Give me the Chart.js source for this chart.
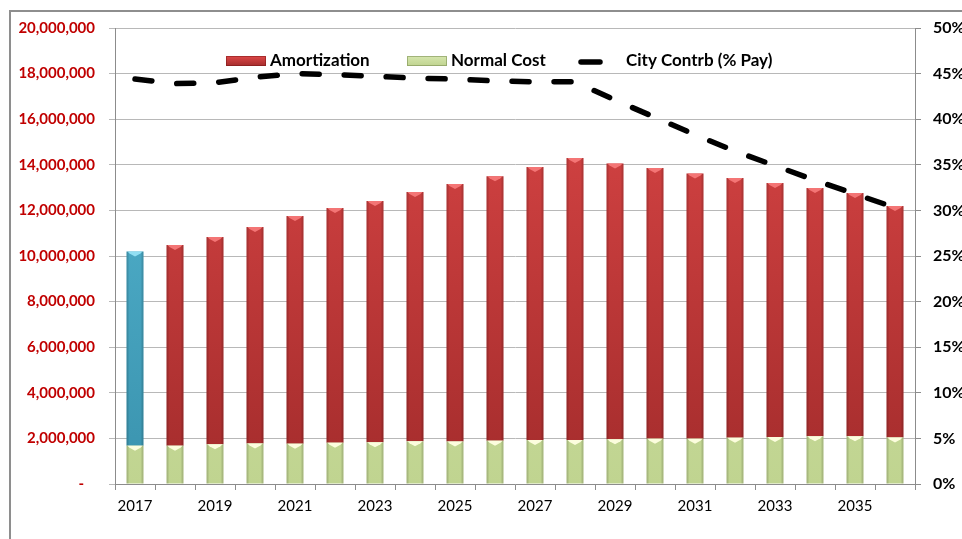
<!DOCTYPE html>
<html><head><meta charset="utf-8">
<script src="https://cdn.jsdelivr.net/npm/chart.js@4.4.1/dist/chart.umd.min.js"></script>
<style>
html,body{margin:0;padding:0;background:#fff;overflow:hidden;}
#wrap{position:relative;width:962px;height:539px;overflow:hidden;}
#frame{position:absolute;left:9px;top:10px;width:2000px;height:2000px;border:2px solid #8e8e8e;box-sizing:border-box;}
#c{position:absolute;left:0;top:0;}
</style></head><body>
<div id="wrap"><div id="frame"></div><canvas id="c" width="962" height="539"></canvas></div>
<script>
const years = [2017,2018,2019,2020,2021,2022,2023,2024,2025,2026,2027,2028,2029,2030,2031,2032,2033,2034,2035,2036];
const normalCost = [1680000,1680000,1740000,1780000,1770000,1810000,1830000,1870000,1860000,1900000,1930000,1930000,1960000,1990000,1990000,2030000,2060000,2090000,2090000,2040000];
const amortization = [8520000,8800000,9090000,9490000,9980000,10290000,10580000,10940000,11300000,11600000,11970000,12370000,12100000,11870000,11630000,11390000,11140000,10890000,10670000,10150000];
const cityContrbPct = [44.4,43.9,44.0,44.6,45.0,44.9,44.7,44.5,44.4,44.2,44.1,44.1,42.1,40.2,38.3,36.5,34.9,33.3,31.8,30.3];
const seriesNames = ['Normal Cost','Amortization','City Contrb (% Pay)'];

function vGrad(chart, c1, c2) {
  const a = chart.chartArea;
  if (!a) return c2;
  const g = chart.ctx.createLinearGradient(0, a.top, 0, a.bottom);
  g.addColorStop(0, c1); g.addColorStop(1, c2);
  return g;
}
const RED = ['#de4848','#a42c2c'];
const BLUE = ['#58bad6','#3a93ae'];
const GREEN = ['#d6e6ae','#c0d490'];

const bevelPlugin = {
  id: 'bevel',
  afterDatasetDraw(chart, args) {
    const meta = args.meta;
    if (meta.type !== 'bar') return;
    const ctx = chart.ctx;
    ctx.save();
    meta.data.forEach((el, i) => {
      const p = el.getProps(['x','y','base','width'], true);
      const top = Math.min(p.y, p.base), bot = Math.max(p.y, p.base);
      const l = p.x - p.width/2, r = p.x + p.width/2;
      // edge shading
      ctx.fillStyle = 'rgba(0,0,0,0.13)';
      ctx.fillRect(l, top, 2, bot-top);
      ctx.fillRect(r-2, top, 2, bot-top);
      // chevron highlight
      let hl;
      if (meta.index === 0) hl = 'rgba(255,255,225,0.95)';
      else hl = (i === 0) ? 'rgba(150,225,245,0.95)' : 'rgba(245,120,120,0.95)';
      ctx.fillStyle = hl;
      ctx.beginPath();
      ctx.moveTo(l+1, top); ctx.lineTo(r-1, top); ctx.lineTo(r-3, top+2);
      ctx.lineTo(p.x, top+5); ctx.lineTo(l+3, top+2); ctx.closePath(); ctx.fill();
    });
    ctx.restore();
  }
};

const legendPlugin = {
  id: 'excelLegend',
  afterDraw(chart) {
    const ctx = chart.ctx, a = chart.chartArea;
    const ds = chart.data.datasets;
    ctx.save();
    ctx.font = 'bold 17px Lato';
    ctx.textBaseline = 'middle';
    ctx.textAlign = 'left';
    const y = a.top + 33;
    // Amortization
    let x = a.left + 111;
    ctx.fillStyle = vGradBox(ctx, y, RED);
    ctx.fillRect(x, y-5, 40, 10);
    ctx.strokeStyle = 'rgba(120,20,20,0.5)'; ctx.lineWidth = 1; ctx.strokeRect(x+0.5, y-4.5, 39, 9);
    ctx.fillStyle = '#000';
    ctx.fillText(ds[1].label, x + 44, y);
    // Normal Cost
    x = a.left + 292;
    ctx.fillStyle = vGradBox(ctx, y, GREEN);
    ctx.fillRect(x, y-5, 40, 10);
    ctx.strokeStyle = 'rgba(110,130,70,0.5)'; ctx.strokeRect(x+0.5, y-4.5, 39, 9);
    ctx.fillStyle = '#000';
    ctx.fillText(ds[0].label, x + 44, y);
    // line
    x = a.left + 466;
    ctx.strokeStyle = '#000'; ctx.lineWidth = 5.5; ctx.lineCap = 'round';
    ctx.beginPath(); ctx.moveTo(x, y+1); ctx.lineTo(x+19, y+1); ctx.stroke();
    ctx.fillStyle = '#000';
    ctx.fillText(ds[2].label, a.left + 511, y);
    ctx.restore();
  }
};
function vGradBox(ctx, y, cols) {
  const g = ctx.createLinearGradient(0, y-5, 0, y+5);
  g.addColorStop(0, cols[0]); g.addColorStop(1, cols[1]);
  return g;
}

new Chart(document.getElementById('c'), {
  type: 'bar',
  data: {
    labels: years.map(String),
    datasets: [
      { label: seriesNames[0], data: normalCost, yAxisID: 'y', stack: 's', order: 1,
        backgroundColor: c => vGrad(c.chart, GREEN[0], GREEN[1]),
        borderWidth: 0, barPercentage: 0.425, categoryPercentage: 1 },
      { label: seriesNames[1], data: amortization, yAxisID: 'y', stack: 's', order: 1,
        backgroundColor: c => (c.dataIndex === 0 ? vGrad(c.chart, BLUE[0], BLUE[1]) : vGrad(c.chart, RED[0], RED[1])),
        borderWidth: 0, barPercentage: 0.425, categoryPercentage: 1 },
      { type: 'line', label: seriesNames[2], data: cityContrbPct, yAxisID: 'y1', order: 0,
        borderColor: '#000', borderWidth: 5.5, borderDash: [17, 25], borderCapStyle: 'round',
        pointRadius: 0, tension: 0, fill: false }
    ]
  },
  options: {
    responsive: false,
    animation: false,
    devicePixelRatio: 1,
    layout: { padding: { top: 28, left: 0, right: 0, bottom: 0 } },
    plugins: { legend: { display: false }, tooltip: { enabled: false } },
    scales: {
      x: {
        stacked: true, offset: true,
        grid: { display: true, drawOnChartArea: false, drawTicks: true, tickLength: 6, color: '#8c8c8c', offset: true },
        border: { display: true, color: '#8c8c8c' },
        ticks: { autoSkip: false, maxRotation: 0, padding: 7, color: '#000',
          font: { family: 'Lato', size: 15 },
          callback: (v, i) => (i % 2 === 0 ? String(years[i]) : '') },
        afterFit: s => { s.height = 55; }
      },
      y: {
        position: 'left', stacked: true, min: 0, max: 20000000,
        ticks: { stepSize: 2000000, padding: 14, color: '#c00000',
          font: { family: 'Lato', size: 15, weight: 'bold' },
          callback: v => (v === 0 ? '-   ' : Number(v).toLocaleString('en-US')) },
        grid: { color: '#b8b8b8', tickLength: 6 },
        border: { color: '#8c8c8c' },
        afterFit: s => { s.width = 115; }
      },
      y1: {
        position: 'right', min: 0, max: 50, stacked: false,
        ticks: { stepSize: 5, padding: 12, color: '#000',
          font: { family: 'Lato', size: 16, weight: 'bold' },
          callback: v => v + '%' },
        grid: { drawOnChartArea: false, tickLength: 6, color: '#8c8c8c' },
        border: { color: '#8c8c8c' },
        afterFit: s => { s.width = 47; }
      }
    }
  },
  plugins: [bevelPlugin, legendPlugin]
});
</script>
</body></html>
